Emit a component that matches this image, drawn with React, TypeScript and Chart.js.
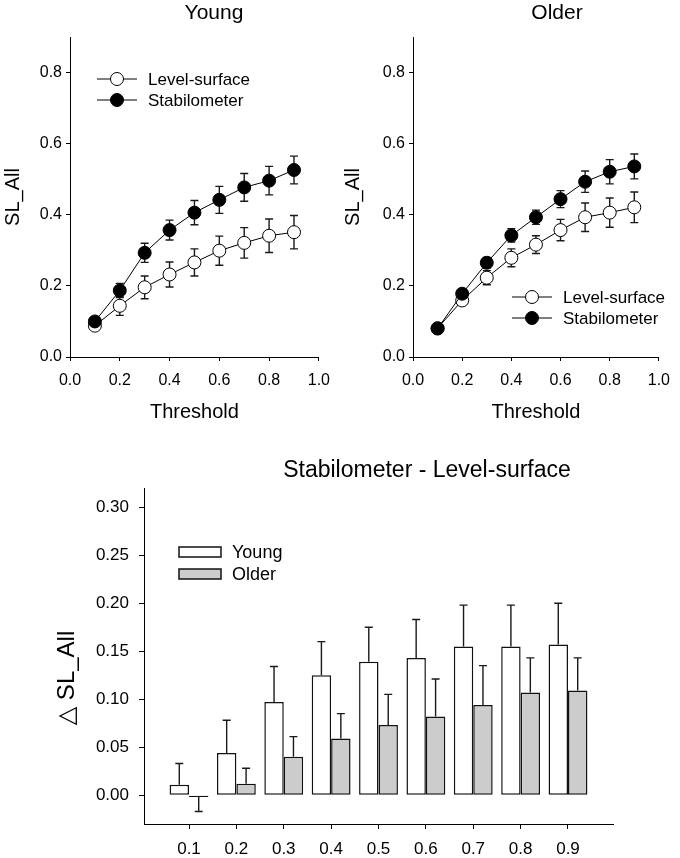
import React, { useEffect, useRef } from 'react'
import { Chart, ChartConfiguration, Plugin, registerables } from 'chart.js'

Chart.register(...registerables)

const FONT = '"Liberation Sans", Arial, Helvetica, "DejaVu Sans", sans-serif'

// thresholds used on every x axis
const thresholds = [0.1, 0.2, 0.3, 0.4, 0.5, 0.6, 0.7, 0.8, 0.9]

// SL_All, young group
const youngLevel = [0.088, 0.144, 0.196, 0.232, 0.266, 0.299, 0.321, 0.341, 0.351]
const youngLevelErr = [0.01, 0.027, 0.032, 0.035, 0.038, 0.041, 0.043, 0.047, 0.047]
const youngStab = [0.1, 0.187, 0.293, 0.357, 0.406, 0.442, 0.477, 0.496, 0.526]
const youngStabErr = [0.01, 0.02, 0.027, 0.028, 0.034, 0.038, 0.039, 0.04, 0.039]

// SL_All, older group
const olderLevel = [0.081, 0.159, 0.223, 0.279, 0.316, 0.357, 0.393, 0.406, 0.421]
const olderLevelErr = [0.008, 0.01, 0.02, 0.025, 0.025, 0.03, 0.04, 0.041, 0.043]
const olderStab = [0.08, 0.178, 0.265, 0.342, 0.393, 0.444, 0.493, 0.521, 0.536]
const olderStabErr = [0.008, 0.01, 0.015, 0.019, 0.02, 0.024, 0.03, 0.034, 0.035]

// Stabilometer - Level-surface
const diffYoung = [0.011, 0.044, 0.097, 0.125, 0.139, 0.143, 0.155, 0.155, 0.157]
const diffYoungErr = [0.022, 0.034, 0.037, 0.035, 0.036, 0.04, 0.043, 0.043, 0.043]
const diffOlder = [-0.002, 0.012, 0.04, 0.059, 0.073, 0.082, 0.094, 0.107, 0.109]
const diffOlderErr = [0.015, 0.016, 0.021, 0.026, 0.032, 0.039, 0.041, 0.036, 0.034]

// tick values
const lineXTicks = [0, 0.2, 0.4, 0.6, 0.8, 1.0]
const lineYTicks = [0, 0.2, 0.4, 0.6, 0.8]
const barYTicks = [0, 0.05, 0.1, 0.15, 0.2, 0.25, 0.3]

const points = (ys: number[]) => thresholds.map((x, i) => ({ x, y: ys[i] }))

// error bars; both = symmetric (lines), otherwise only away from zero (bars)
const errorBars = (both: boolean, cap: number): Plugin => {
  const draw = (chart: Chart) => {
    const { ctx } = chart
    const yScale = chart.scales.y
    ctx.save()
    ctx.strokeStyle = '#1a1a1a'
    ctx.lineWidth = 1.4
    chart.data.datasets.forEach((ds: any, di) => {
      const errs: number[] | undefined = ds.errorBars
      if (!errs) return
      chart.getDatasetMeta(di).data.forEach((el: any, i) => {
        const v = ds.data[i].y
        const e = errs[i]
        const x = el.x
        const y0 = yScale.getPixelForValue(both ? v - e : v)
        const y1 = yScale.getPixelForValue(both ? v + e : v >= 0 ? v + e : v - e)
        ctx.beginPath()
        ctx.moveTo(x, y0)
        ctx.lineTo(x, y1)
        ctx.moveTo(x - cap / 2, y1)
        ctx.lineTo(x + cap / 2, y1)
        if (both) {
          ctx.moveTo(x - cap / 2, y0)
          ctx.lineTo(x + cap / 2, y0)
        }
        ctx.stroke()
      })
    })
    ctx.restore()
  }
  return both
    ? { id: 'errorBarsUnder', beforeDatasetsDraw: draw }
    : { id: 'errorBarsOver', afterDatasetsDraw: draw }
}

// free text (titles, rotated axis label)
const freeText = (id: string, text: string, x: number, y: number, size: number, rotate = 0): Plugin => ({
  id,
  afterDraw(chart) {
    const { ctx } = chart
    ctx.save()
    ctx.font = `${size}px ${FONT}`
    ctx.fillStyle = '#000'
    ctx.textAlign = 'center'
    ctx.textBaseline = 'middle'
    ctx.translate(x, y)
    ctx.rotate(rotate)
    ctx.fillText(text, 0, 0)
    ctx.restore()
  },
})

// legend drawn inside the plot: line + marker rows
const lineLegend = (x: number, y: number, gap: number, size: number): Plugin => ({
  id: 'lineLegend',
  afterDraw(chart) {
    const { ctx } = chart
    ctx.save()
    ctx.font = `${size}px ${FONT}`
    ctx.textBaseline = 'middle'
    ctx.textAlign = 'left'
    chart.data.datasets.forEach((ds: any, i) => {
      const cy = y + i * gap
      ctx.strokeStyle = ds.borderColor
      ctx.lineWidth = 1
      ctx.beginPath()
      ctx.moveTo(x, cy)
      ctx.lineTo(x + 40, cy)
      ctx.stroke()
      ctx.beginPath()
      ctx.arc(x + 20, cy, ds.pointRadius, 0, Math.PI * 2)
      ctx.fillStyle = ds.pointBackgroundColor
      ctx.fill()
      ctx.strokeStyle = ds.pointBorderColor
      ctx.stroke()
      ctx.fillStyle = '#000'
      ctx.fillText(ds.label, x + 51, cy + 1)
    })
    ctx.restore()
  },
})

const barLegend = (x: number, y: number, gap: number, size: number): Plugin => ({
  id: 'barLegend',
  afterDraw(chart) {
    const { ctx } = chart
    ctx.save()
    ctx.font = `${size}px ${FONT}`
    ctx.textBaseline = 'middle'
    ctx.textAlign = 'left'
    chart.data.datasets.forEach((ds: any, i) => {
      const cy = y + i * gap
      ctx.fillStyle = ds.backgroundColor
      ctx.fillRect(x, cy - 5, 42, 10)
      ctx.strokeStyle = ds.borderColor
      ctx.lineWidth = 1.5
      ctx.strokeRect(x, cy - 5, 42, 10)
      ctx.fillStyle = '#000'
      ctx.fillText(ds.label, x + 53, cy + 1)
    })
    ctx.restore()
  },
})

const axisBase = (tickSize: number, tickLen: number, pad: number, ticks: number[], digits: number) => ({
  type: 'linear' as const,
  offset: false,
  border: { display: true, color: '#000', width: 1 },
  grid: { display: true, offset: false, drawOnChartArea: false, drawTicks: true, tickLength: tickLen, tickColor: '#000' },
  ticks: {
    color: '#000',
    padding: pad,
    font: { size: tickSize, family: FONT },
    callback: (v: any) => Number(v).toFixed(digits),
  },
  afterBuildTicks: (scale: any) => {
    scale.ticks = ticks.map((value) => ({ value }))
  },
})

const lineConfig = (
  title: string,
  level: number[],
  levelErr: number[],
  stab: number[],
  stabErr: number[],
  yWidth: number,
  padRight: number,
  legendAt: [number, number],
): ChartConfiguration => ({
  type: 'line',
  data: {
    datasets: [
      {
        label: 'Level-surface',
        data: points(level),
        errorBars: levelErr,
        borderColor: '#000',
        borderWidth: 1,
        pointRadius: 6.5,
        pointBackgroundColor: '#fff',
        pointBorderColor: '#000',
        pointBorderWidth: 1,
        tension: 0,
        order: 1,
      } as any,
      {
        label: 'Stabilometer',
        data: points(stab),
        errorBars: stabErr,
        borderColor: '#000',
        borderWidth: 1,
        pointRadius: 6.5,
        pointBackgroundColor: '#000',
        pointBorderColor: '#000',
        pointBorderWidth: 1,
        tension: 0,
        order: 0,
      } as any,
    ],
  },
  options: {
    animation: false,
    responsive: false,
    layout: { padding: { top: 37, right: padRight, left: 0, bottom: 0 } },
    scales: {
      x: {
        ...axisBase(16, 4, 10, lineXTicks, 1),
        min: 0,
        max: 1,
        title: { display: true, text: 'Threshold', color: '#000', font: { size: 20, family: FONT }, padding: { top: 0, bottom: 2 } },
        afterFit: (scale: any) => {
          scale.height = 69
        },
      },
      y: {
        ...axisBase(16, 4, 4, lineYTicks, 1),
        min: 0,
        max: 0.9,
        title: { display: true, text: 'SL_All', color: '#000', font: { size: 20, family: FONT }, padding: { top: 1, bottom: 0 } },
        afterFit: (scale: any) => {
          scale.width = yWidth
        },
      },
    } as any,
    plugins: { legend: { display: false }, tooltip: { enabled: false } },
  },
  plugins: [
    errorBars(true, 8),
    freeText('chartTitle', title, yWidth + 144, 13, 21),
    lineLegend(legendAt[0], legendAt[1], 21, 17),
  ],
})

const youngConfig = () =>
  lineConfig('Young', youngLevel, youngLevelErr, youngStab, youngStabErr, 70, 19, [97, 79])
const olderConfig = () =>
  lineConfig('Older', olderLevel, olderLevelErr, olderStab, olderStabErr, 73, 15, [172, 297])

const diffConfig = (): ChartConfiguration => ({
  type: 'bar',
  data: {
    datasets: [
      {
        label: 'Young',
        data: points(diffYoung),
        errorBars: diffYoungErr,
        backgroundColor: '#ffffff',
        borderColor: '#111',
        borderWidth: 1.5,
        borderSkipped: false,
        categoryPercentage: 0.82,
        barPercentage: 1,
      } as any,
      {
        label: 'Older',
        data: points(diffOlder),
        errorBars: diffOlderErr,
        backgroundColor: '#cccccc',
        borderColor: '#111',
        borderWidth: 1.5,
        borderSkipped: false,
        categoryPercentage: 0.82,
        barPercentage: 1,
      } as any,
    ],
  },
  options: {
    animation: false,
    responsive: false,
    layout: { padding: { top: 48, right: 67, left: 50, bottom: 0 } },
    scales: {
      x: {
        ...axisBase(17, 5, 10, thresholds, 1),
        min: 0.005,
        max: 0.995,
        afterFit: (scale: any) => {
          scale.height = 34
        },
      },
      y: {
        ...axisBase(17, 5, 10, barYTicks, 2),
        min: -0.03,
        max: 0.32,
        afterFit: (scale: any) => {
          scale.width = 94
        },
      },
    } as any,
    plugins: { legend: { display: false }, tooltip: { enabled: false } },
  },
  plugins: [
    errorBars(false, 8),
    freeText('chartTitle', 'Stabilometer - Level-surface', 427, 31, 23),
    freeText('yTitle', '\u25B3 SL_All', 67, 238, 24, -Math.PI / 2),
    barLegend(179, 112, 22, 18),
  ],
})

type Props = {
  left: number
  top: number
  width: number
  height: number
  config: () => ChartConfiguration
}

const PlotCanvas = ({ left, top, width, height, config }: Props) => {
  const chartRef = useRef<HTMLCanvasElement>(null)

  useEffect(() => {
    Chart.defaults.font.family = FONT
    const chart = new Chart(chartRef.current!, config())
    return () => {
      chart.destroy()
    }
  }, [config])

  return (
    <canvas
      ref={chartRef}
      width={width}
      height={height}
      style={{ position: 'absolute', left, top, width, height }}
    />
  )
}

const App = () => (
  <div style={{ position: 'absolute', left: 0, top: 0, width: 680, height: 858, background: '#fff' }}>
    <PlotCanvas left={0} top={0} width={340} height={426} config={youngConfig} />
    <PlotCanvas left={340} top={0} width={340} height={426} config={olderConfig} />
    <PlotCanvas left={0} top={440} width={680} height={418} config={diffConfig} />
  </div>
)

export default App
